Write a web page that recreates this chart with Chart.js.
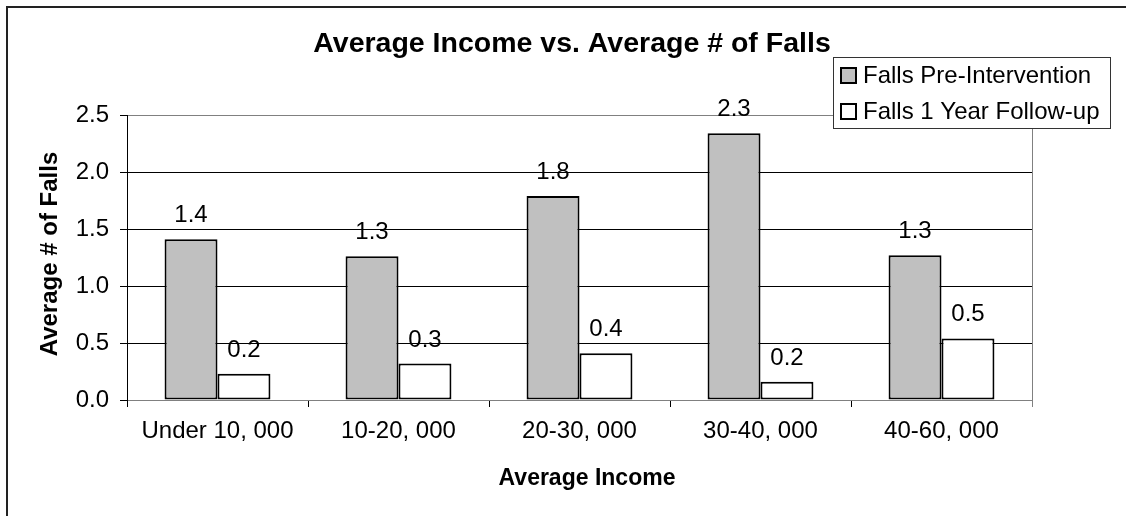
<!DOCTYPE html>
<html>
<head>
<meta charset="utf-8">
<script src="https://cdn.jsdelivr.net/npm/chart.js@4.4.1/dist/chart.umd.min.js"></script>
<style>
  html, body { margin: 0; padding: 0; background: #ffffff; }
  #wrap { width: 1126px; height: 516px; position: relative; }
</style>
</head>
<body>
<div id="wrap"><canvas id="c" width="1126" height="516"></canvas></div>
<script>
// Income bands and average number of falls per band
const categories = ['Under 10, 000', '10-20, 000', '20-30, 000', '30-40, 000', '40-60, 000'];
const preIntervention = [1.41, 1.26, 1.79, 2.34, 1.27];
const followUp = [0.23, 0.32, 0.41, 0.16, 0.54];
const yTickValues = [0, 0.5, 1.0, 1.5, 2.0, 2.5];
const seriesNames = ['Falls Pre-Intervention', 'Falls 1 Year Follow-up'];
const chartTitle = 'Average Income vs. Average # of Falls';
const xAxisTitle = 'Average Income';
const yAxisTitle = 'Average # of Falls';

const FONT = "'Liberation Sans', Arial, Helvetica, sans-serif";
const seriesFill = ['#C0C0C0', '#FFFFFF'];

// Frame, titles, value labels and the floating legend box
const decor = {
  id: 'decor',
  beforeDraw(chart) {
    const ctx = chart.ctx;
    ctx.save();
    ctx.fillStyle = '#ffffff';
    ctx.fillRect(0, 0, chart.width, chart.height);
    // outer chart frame (top and left edges fall inside the canvas)
    ctx.strokeStyle = '#222222';
    ctx.lineWidth = 2;
    ctx.beginPath();
    ctx.moveTo(7, chart.height + 5);
    ctx.lineTo(7, 7);
    ctx.lineTo(chart.width + 5, 7);
    ctx.stroke();
    ctx.restore();
  },
  afterDraw(chart) {
    const ctx = chart.ctx;
    const area = chart.chartArea;
    ctx.save();
    // right edge of the plot area
    ctx.strokeStyle = '#808080';
    ctx.lineWidth = 1;
    ctx.beginPath();
    ctx.moveTo(Math.round(area.right) + 0.5, area.top);
    ctx.lineTo(Math.round(area.right) + 0.5, area.bottom + 7);
    ctx.stroke();

    // value labels above each bar
    ctx.fillStyle = '#000000';
    ctx.font = '24px ' + FONT;
    ctx.textAlign = 'center';
    ctx.textBaseline = 'alphabetic';
    chart.data.datasets.forEach((ds, di) => {
      const meta = chart.getDatasetMeta(di);
      meta.data.forEach((bar, i) => {
        ctx.fillText(ds.data[i].toFixed(1), bar.x, bar.y - 17);
      });
    });

    // chart title
    ctx.font = 'bold 28.5px ' + FONT;
    ctx.fillText(chartTitle, 572, 52);

    // axis titles
    ctx.font = 'bold 23px ' + FONT;
    ctx.fillText(xAxisTitle, 587, 485);
    ctx.save();
    ctx.font = 'bold 24px ' + FONT;
    ctx.translate(57, 254);
    ctx.rotate(-Math.PI / 2);
    ctx.fillText(yAxisTitle, 0, 0);
    ctx.restore();

    // legend box
    const lx = 833, ly = 57, lw = 277, lh = 71;
    ctx.fillStyle = '#ffffff';
    ctx.fillRect(lx, ly, lw, lh);
    ctx.strokeStyle = '#333333';
    ctx.lineWidth = 1;
    ctx.strokeRect(lx + 0.5, ly + 0.5, lw, lh);
    const rows = [83, 119];
    ctx.font = '24px ' + FONT;
    ctx.textAlign = 'left';
    chart.data.datasets.forEach((ds, di) => {
      const base = rows[di];
      ctx.fillStyle = ds.backgroundColor;
      ctx.fillRect(841, base - 15, 15, 15);
      ctx.strokeStyle = '#000000';
      ctx.lineWidth = 2;
      ctx.strokeRect(841, base - 15, 15, 15);
      ctx.fillStyle = '#000000';
      ctx.fillText(ds.label, 863, base);
    });
    ctx.restore();
  }
};

new Chart(document.getElementById('c'), {
  type: 'bar',
  data: {
    labels: categories,
    datasets: [
      {
        label: seriesNames[0],
        data: preIntervention,
        backgroundColor: seriesFill[0],
        borderColor: '#000000',
        borderWidth: 2,
        borderSkipped: false
      },
      {
        label: seriesNames[1],
        data: followUp,
        backgroundColor: seriesFill[1],
        borderColor: '#000000',
        borderWidth: 2,
        borderSkipped: false
      }
    ]
  },
  options: {
    responsive: false,
    animation: false,
    devicePixelRatio: 1,
    layout: { padding: { left: 0, top: 115, right: 94, bottom: 0 } },
    datasets: { bar: { categoryPercentage: 0.585, barPercentage: 1.0 } },
    plugins: {
      legend: { display: false },
      title: { display: false },
      tooltip: { enabled: false }
    },
    scales: {
      x: {
        grid: {
          offset: true,
          drawOnChartArea: false,
          drawTicks: true,
          tickLength: 7,
          tickColor: '#000000'
        },
        border: { color: '#808080', width: 1 },
        ticks: {
          color: '#000000',
          font: { family: FONT, size: 24 },
          padding: 10,
          maxRotation: 0,
          autoSkip: false
        },
        afterFit(scale) { scale.height = 116; }
      },
      y: {
        min: 0,
        max: 2.5,
        afterBuildTicks(scale) {
          scale.ticks = yTickValues.map(v => ({ value: v }));
        },
        grid: {
          color: (c) => (c.tick && (c.tick.value === 2.5 || c.tick.value === 0)) ? '#808080' : '#000000',
          tickColor: '#000000',
          tickLength: 7,
          lineWidth: 1
        },
        border: { color: '#000000', width: 1 },
        ticks: {
          color: '#000000',
          font: { family: FONT, size: 24 },
          padding: 11,
          callback: (v) => Number(v).toFixed(1)
        },
        afterFit(scale) { scale.width = 127; }
      }
    }
  },
  plugins: [decor]
});
</script>
</body>
</html>
